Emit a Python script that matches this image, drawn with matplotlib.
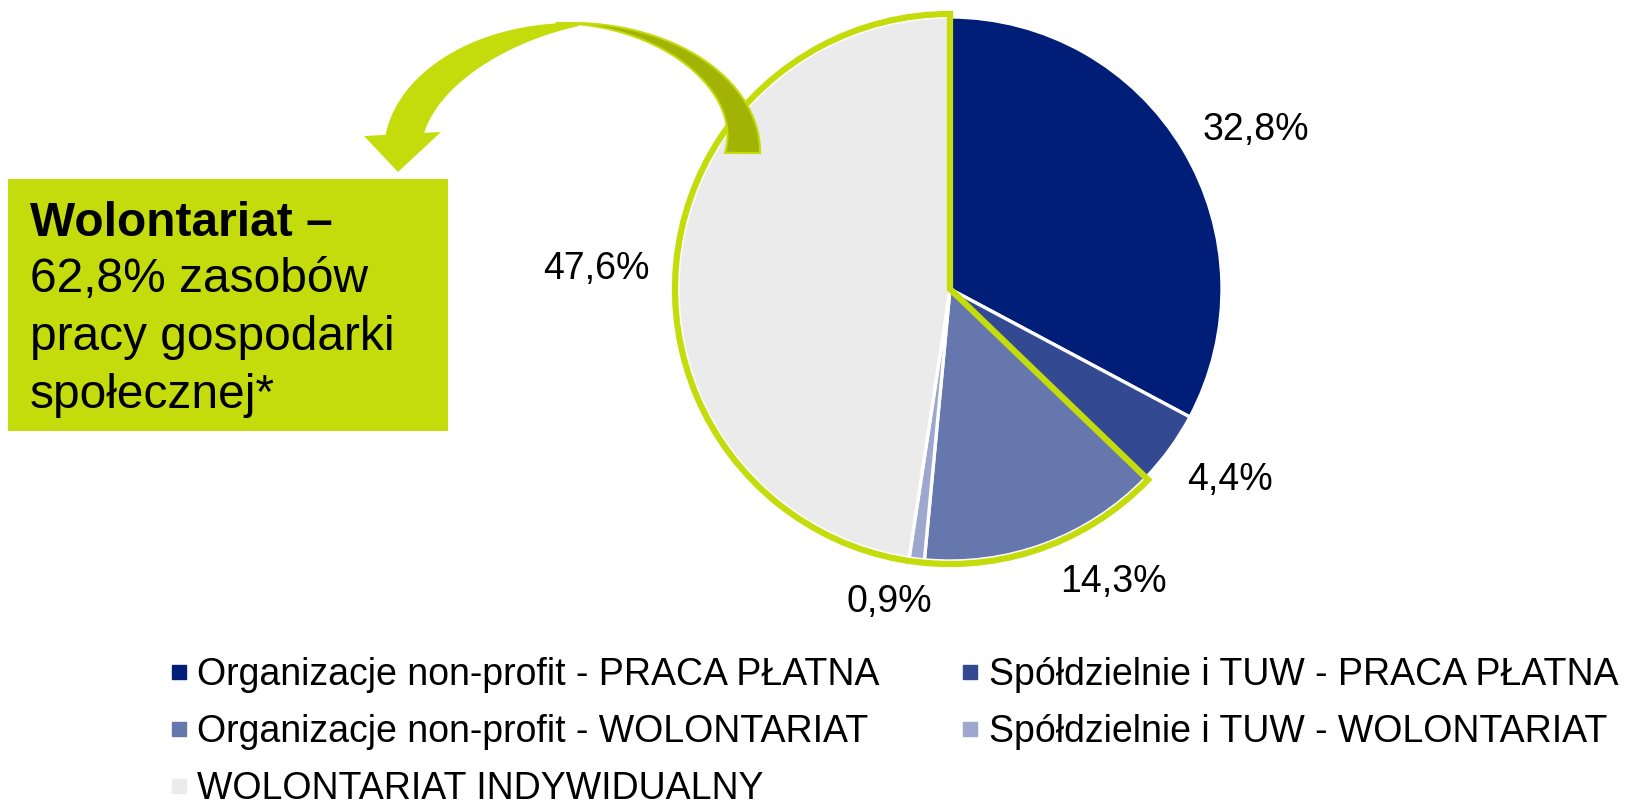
import numpy as np
import matplotlib.pyplot as plt
from matplotlib.patches import Wedge, Rectangle, Polygon
from matplotlib.lines import Line2D

plt.rcParams['font.family'] = ['Liberation Sans', 'DejaVu Sans']

# Data
categories = ['Organizacje non-profit - PRACA PŁATNA',
              'Spółdzielnie i TUW - PRACA PŁATNA',
              'Organizacje non-profit - WOLONTARIAT',
              'Spółdzielnie i TUW - WOLONTARIAT',
              'WOLONTARIAT INDYWIDUALNY']
values = [32.8, 4.4, 14.3, 0.9, 47.6]
colors = ['#001e78', '#334a93', '#6677ad', '#9ea8cf', '#ebebeb']
volunteer_idx = [2, 3, 4]
box_lines = ['Wolontariat –', '62,8% zasobów', 'pracy gospodarki', 'społecznej*']

GREEN = '#c4dc0b'
DARK_GREEN = '#a3b306'

W, H = 1635, 807
fig = plt.figure(figsize=(W / 100, H / 100), dpi=100)
ax = fig.add_axes([0, 0, 1, 1])


def Y(y):
    # pixel row (from top) -> data y
    return H - y


cx, cy, r = 950, Y(289), 272
labels = [f'{v:.1f}%'.replace('.', ',') for v in values]
wedges, texts = ax.pie(values, colors=colors, startangle=90, counterclock=False,
                       center=(cx, cy), radius=r, labels=labels, labeldistance=1.27,
                       wedgeprops=dict(edgecolor='white', linewidth=2.4),
                       textprops=dict(fontsize=27))
# label placement as in the original
label_xy = [(1256, 130), (1230, 480), (1113, 582), (889, 602), (596, 269)]
for t, (lx, ly) in zip(texts, label_xy):
    t.set_position((lx, Y(ly)))
    t.set_ha('center')
    t.set_va('center')

# green outline around volunteer part
share = sum(values[i] for i in volunteer_idx) / sum(values)
ax.add_patch(Wedge((cx, cy), r + 3, 90, 90 + 360 * share, fill=False,
                   edgecolor=GREEN, linewidth=4.5, joinstyle='miter', zorder=5))

# curved arrow
ecx, ecy = 572, 152
a_out, b_out = 188, 129

# dark right part
th = np.linspace(np.radians(95), np.radians(-0.5), 80)
t = (np.radians(95) - th) / (np.radians(95) - np.radians(-0.5))
w = 35 * t ** 1.3
outer = np.c_[ecx + a_out * np.cos(th), ecy - b_out * np.sin(th)]
inner = np.c_[ecx + (a_out - w) * np.cos(th), ecy - (b_out - w) * np.sin(th)]
pts = np.vstack([outer, inner[::-1]])
pts[:, 1] = Y(pts[:, 1])
ax.add_patch(Polygon(pts, closed=True, facecolor=DARK_GREEN, edgecolor=GREEN,
                     linewidth=1.5, zorder=6))

# light left part
th = np.linspace(np.radians(173), np.radians(88), 80)
t = (np.radians(173) - th) / (np.radians(173) - np.radians(88))
w = 3 + 34 * (1 - t ** 2)
outer = np.c_[ecx + a_out * np.cos(th), ecy - b_out * np.sin(th)]
inner = np.c_[ecx + (a_out - w) * np.cos(th), ecy - (b_out - w) * np.sin(th)]
pts = np.vstack([outer, inner[::-1]])
pts[:, 1] = Y(pts[:, 1])
ax.add_patch(Polygon(pts, closed=True, facecolor=GREEN, edgecolor='none', zorder=7))
head = np.array([(364, 136), (441, 132), (398, 172)], dtype=float)
head[:, 1] = Y(head[:, 1])
ax.add_patch(Polygon(head, closed=True, facecolor=GREEN, edgecolor='none', zorder=7))

# green text box
ax.add_patch(Rectangle((8, Y(431)), 440, 252, facecolor=GREEN, edgecolor='none', zorder=3))
baselines = [236, 292, 350, 408]
for i, (line, by) in enumerate(zip(box_lines, baselines)):
    ax.text(30, Y(by), line, fontsize=34.5, va='baseline', ha='left',
            fontweight='bold' if i == 0 else 'normal', zorder=8)

ax.set_xlim(0, W)
ax.set_ylim(0, H)
ax.axis('off')

# legend, filled row by row
handles = [Line2D([], [], marker='s', linestyle='', markersize=9.5,
                  markerfacecolor=c, markeredgecolor=c) for c in colors]
order = [0, 2, 4, 1, 3]
ax.legend([handles[i] for i in order], [categories[i] for i in order], ncol=2,
          loc='upper left', bbox_to_anchor=(172, Y(657)), bbox_transform=ax.transData,
          frameon=False, fontsize=27, borderpad=0, borderaxespad=0,
          handlelength=0.35, handletextpad=0.32, columnspacing=2.24, labelspacing=0.56)

fig.savefig('out.png', dpi=100)
